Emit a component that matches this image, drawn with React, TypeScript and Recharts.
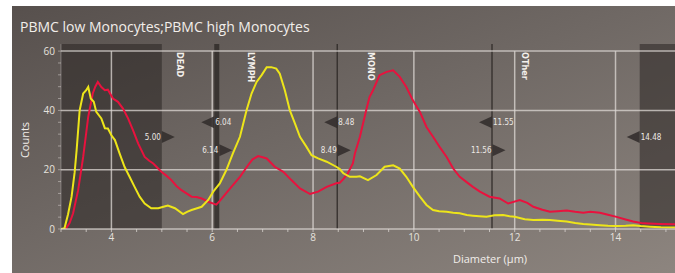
import {
  LineChart,
  Line,
  XAxis,
  YAxis,
  ReferenceArea,
  ReferenceLine,
  ReferenceDot,
} from 'recharts'

// PBMC low monocytes (yellow)
const lowDiameter = [
  3.0, 3.07, 3.14, 3.21, 3.27, 3.31, 3.37, 3.44, 3.5, 3.54, 3.59, 3.65, 3.7, 3.8, 3.87, 3.93, 4.0, 4.07, 4.16, 4.26,
  4.36, 4.46, 4.56, 4.66, 4.79, 4.93, 5.05, 5.12, 5.26, 5.42, 5.5, 5.59, 5.7, 5.79, 5.92, 6.02, 6.15, 6.28, 6.41, 6.55,
  6.68, 6.78, 6.88, 6.98, 7.08, 7.17, 7.27, 7.34, 7.44, 7.54, 7.64, 7.74, 7.87, 7.97, 8.1, 8.27, 8.46, 8.53, 8.6, 8.73,
  8.86, 8.93, 9.09, 9.26, 9.42, 9.59, 9.72, 9.85, 9.98, 10.12, 10.25, 10.38, 10.5, 10.65, 10.78, 10.91, 11.05, 11.17,
  11.3, 11.44, 11.6, 11.77, 11.9, 12.0, 12.2, 12.37, 12.55, 12.7, 12.85, 13.03, 13.2, 13.36, 13.5, 13.69, 13.85, 14.02,
  14.2, 14.35, 14.5, 14.68, 14.9, 15.18,
]
const lowCounts = [
  0, 0.3, 5, 10.9, 19, 26.6, 40, 45.7, 46.8, 47.9, 44, 42.9, 39.5, 37.3, 34, 33.9, 31.6, 30, 25.6, 21,
  17.6, 14.2, 10.9, 8.6, 7, 7, 7.6, 7.9, 7, 5, 5.8, 6.4, 7, 7.5, 9.8, 12.6, 15.4, 19.9, 25.5, 31.1,
  40, 45.7, 49.6, 51.9, 54.6, 54.6, 54.1, 52.4, 46.8, 40, 35.6, 31.1, 27.7, 24.9, 23.8, 22.7, 21, 20.2, 18.8, 17.6,
  17.6, 17.8, 16.5, 18.2, 21, 21.5, 20.4, 17.6, 14.2, 10.9, 8.1, 6.4, 6, 5.8, 5.5, 5.3, 4.7, 4.5,
  4.3, 4.1, 4.6, 4.7, 4.3, 4.1, 3.3, 3, 3.1, 3, 2.8, 2.5, 2, 1.7, 1.5, 1.3, 1.1, 1,
  1.1, 1.3, 1, 0.8, 0.6, 0.5,
]

// PBMC high monocytes (red)
const highDiameter = [
  3.05, 3.1, 3.17, 3.24, 3.34, 3.44, 3.54, 3.63, 3.68, 3.73, 3.8, 3.87, 3.93, 4.03, 4.13, 4.23, 4.33, 4.43, 4.53, 4.66,
  4.75, 4.83, 4.99, 5.09, 5.19, 5.29, 5.39, 5.49, 5.59, 5.69, 5.79, 5.92, 6.05, 6.08, 6.15, 6.22, 6.38, 6.55, 6.71, 6.8,
  6.91, 7.0, 7.08, 7.24, 7.41, 7.57, 7.74, 7.94, 8.1, 8.27, 8.46, 8.53, 8.6, 8.69, 8.79, 8.83, 8.93, 8.96, 9.06, 9.12,
  9.19, 9.32, 9.46, 9.59, 9.72, 9.85, 9.98, 10.12, 10.25, 10.38, 10.51, 10.65, 10.78, 10.91, 11.04, 11.17, 11.31, 11.5,
  11.7, 11.87, 12.1, 12.25, 12.37, 12.55, 12.7, 12.85, 13.03, 13.2, 13.36, 13.5, 13.69, 13.85, 14.02, 14.2, 14.35,
  14.55, 14.88, 15.18,
]
const highCounts = [
  0, 0.2, 2, 5.3, 13.1, 24.3, 37.8, 45.7, 48, 49.6, 47.9, 46.8, 47, 44, 42.9, 40.6, 37.3, 33.3, 28.9, 24.3,
  23, 22.1, 19.3, 18, 16.5, 14.5, 13.1, 12, 10.9, 10.8, 10.3, 9.2, 8.4, 8.2, 9.5, 10.9, 14.2, 17.6, 21.5, 23.5,
  24.6, 24.2, 23.8, 21, 19.3, 16.5, 13.7, 11.8, 12.6, 14.2, 15.4, 15.6, 16.8, 18.8, 22.1, 25.5, 31.1, 33.3, 40.5, 44.5,
  46.8, 51.9, 53, 53.5, 51.3, 47.9, 43.4, 39.5, 34.4, 31.1, 27.7, 24.3, 20.4, 17.6, 15.9, 14.2, 12.6, 10.9,
  10.3, 8.6, 9.8, 8.8, 7.5, 6.5, 5.8, 6, 6.2, 5.8, 5.5, 5.8, 5.5, 4.8, 4.1, 3.2, 2.5,
  1.9, 1.7, 1.6,
]

const xTicks = [3, 3.5, 4, 4.5, 5, 5.5, 6, 6.5, 7, 7.5, 8, 8.5, 9, 9.5, 10, 10.5, 11, 11.5, 12, 12.5, 13, 13.5, 14, 14.5, 15]
const yTicks = [0, 4, 8, 12, 16, 20, 24, 28, 32, 36, 40, 44, 48, 52, 56, 60]
const gridX = [4, 6, 8, 10, 12, 14]
const gridY = [20, 40, 60]

const gateNames = ['DEAD', 'LYMPH', 'MONO', 'OTher']
const gateNameAt = [5.37, 6.77, 9.15, 12.2]
const leftMarks = [6.04, 8.48, 11.55, 14.48]
const leftMarkLevel = [36, 36, 36, 31]
const rightMarks = [5.0, 6.14, 8.49, 11.56]
const rightMarkLevel = [31, 26.6, 26.6, 26.6]

const lowData = lowDiameter.map((x, i) => ({ x, y: lowCounts[i] }))
const highData = highDiameter.map((x, i) => ({ x, y: highCounts[i] }))

const GRID = 'rgba(222,216,212,0.75)'
const MARK = 'rgba(52,47,45,0.9)'
const markFont = { fontFamily: '"DejaVu Sans Condensed", "DejaVu Sans", sans-serif', fontSize: 8 }

function LeftFlag({ cx, cy, label }: any) {
  return (
    <g>
      <polygon points={`${cx - 13},${cy} ${cx},${cy - 6} ${cx},${cy + 6}`} fill={MARK} />
      <text x={cx + 1} y={cy} dominantBaseline="central" fill="#ece8e4" style={markFont}>{label}</text>
    </g>
  )
}

function RightFlag({ cx, cy, label }: any) {
  return (
    <g>
      <polygon points={`${cx + 13},${cy} ${cx},${cy - 6} ${cx},${cy + 6}`} fill={MARK} />
      <text x={cx - 1} y={cy} dominantBaseline="central" textAnchor="end" fill="#ece8e4" style={markFont}>{label}</text>
    </g>
  )
}

function GateName({ cx, cy, label }: any) {
  return (
    <text
      x={cx}
      y={cy}
      transform={`rotate(90 ${cx} ${cy})`}
      dominantBaseline="central"
      fill="#f4f0ec"
      style={{ ...markFont, fontSize: 9, fontWeight: 'bold' }}
    >
      {label}
    </text>
  )
}

export default function App() {
  const tick = { fill: '#e6e2de', fontSize: 10, fontFamily: '"Open Sans", sans-serif' }
  return (
    <div style={{ position: 'fixed', left: 0, top: 0, width: 675, height: 273, background: '#fff', overflow: 'hidden' }}>
      <div
        style={{
          position: 'absolute',
          left: 12,
          top: 6,
          right: 0,
          bottom: 0,
          background: 'linear-gradient(160deg, #57504d 0%, #6f6864 45%, #8d857f 100%)',
        }}
      />
      <div
        style={{
          position: 'absolute',
          left: 20,
          top: 17,
          color: '#f2eeea',
          fontSize: 14,
          fontFamily: '"Open Sans", sans-serif',
          whiteSpace: 'nowrap',
        }}
      >
        PBMC low Monocytes;PBMC high Monocytes
      </div>
      <div
        style={{
          position: 'absolute',
          left: 24,
          top: 140,
          transform: 'translate(-50%, -50%) rotate(-90deg)',
          color: '#f2eeea',
          fontSize: 11,
          fontFamily: '"Open Sans", sans-serif',
        }}
      >
        Counts
      </div>
      <div
        style={{
          position: 'absolute',
          left: 490,
          top: 258,
          transform: 'translate(-50%, -50%)',
          color: '#f2eeea',
          fontSize: 11,
          fontFamily: '"Open Sans", sans-serif',
          whiteSpace: 'nowrap',
        }}
      >
        Diameter (µm)
      </div>
      <div style={{ position: 'absolute', left: 0, top: 0 }}>
        <LineChart width={675} height={273} margin={{ top: 44, right: 0, left: 0, bottom: 0 }}>
          <XAxis
            dataKey="x"
            type="number"
            domain={[3, 15.18]}
            allowDataOverflow
            ticks={xTicks}
            interval={0}
            tickFormatter={(v: number) => (v % 2 === 0 ? String(v) : '')}
            tick={tick}
            tickSize={3}
            tickMargin={2}
            height={44}
            axisLine={{ stroke: GRID, strokeWidth: 1.5 }}
            tickLine={{ stroke: GRID }}
          />
          <YAxis
            dataKey="y"
            type="number"
            domain={[0, 62.4]}
            allowDataOverflow
            ticks={yTicks}
            interval={0}
            tickFormatter={(v: number) => (v % 20 === 0 ? String(v) : '')}
            tick={tick}
            tickSize={3}
            tickMargin={3}
            width={61}
            axisLine={{ stroke: 'rgba(222,216,212,0.35)' }}
            tickLine={{ stroke: 'rgba(222,216,212,0.5)' }}
          />
          <ReferenceArea x1={3} x2={5.0} y1={0} y2={62.4} fill="#2a2523" fillOpacity={0.55} stroke="none" />
          <ReferenceArea x1={14.48} x2={15.18} y1={0} y2={62.4} fill="#2a2523" fillOpacity={0.55} stroke="none" />
          <ReferenceArea x1={6.04} x2={6.14} y1={0} y2={62.4} fill="#2a2523" fillOpacity={0.75} stroke="none" />
          <ReferenceLine x={8.48} stroke="rgba(45,40,38,0.8)" strokeWidth={1.5} />
          <ReferenceLine x={11.55} stroke="rgba(45,40,38,0.8)" strokeWidth={1.5} />
          {gridY.map((v) => (
            <ReferenceLine key={'gy' + v} y={v} stroke={GRID} strokeWidth={1.5} />
          ))}
          {gridX.map((v) => (
            <ReferenceLine key={'gx' + v} segment={[{ x: v, y: 0 }, { x: v, y: 60 }]} stroke={GRID} strokeWidth={1.5} />
          ))}
          <Line data={highData} dataKey="y" type="linear" stroke="#e8123e" strokeWidth={2} dot={false} isAnimationActive={false} />
          <Line data={lowData} dataKey="y" type="linear" stroke="#ede51a" strokeWidth={2} dot={false} isAnimationActive={false} />
          {gateNames.map((name, i) => (
            <ReferenceDot key={name} x={gateNameAt[i]} y={59.7} shape={(p: any) => <GateName {...p} label={name} />} />
          ))}
          {leftMarks.map((v, i) => (
            <ReferenceDot key={'l' + v} x={v} y={leftMarkLevel[i]} shape={(p: any) => <LeftFlag {...p} label={v.toFixed(2)} />} />
          ))}
          {rightMarks.map((v, i) => (
            <ReferenceDot key={'r' + v} x={v} y={rightMarkLevel[i]} shape={(p: any) => <RightFlag {...p} label={v.toFixed(2)} />} />
          ))}
        </LineChart>
      </div>
    </div>
  )
}
